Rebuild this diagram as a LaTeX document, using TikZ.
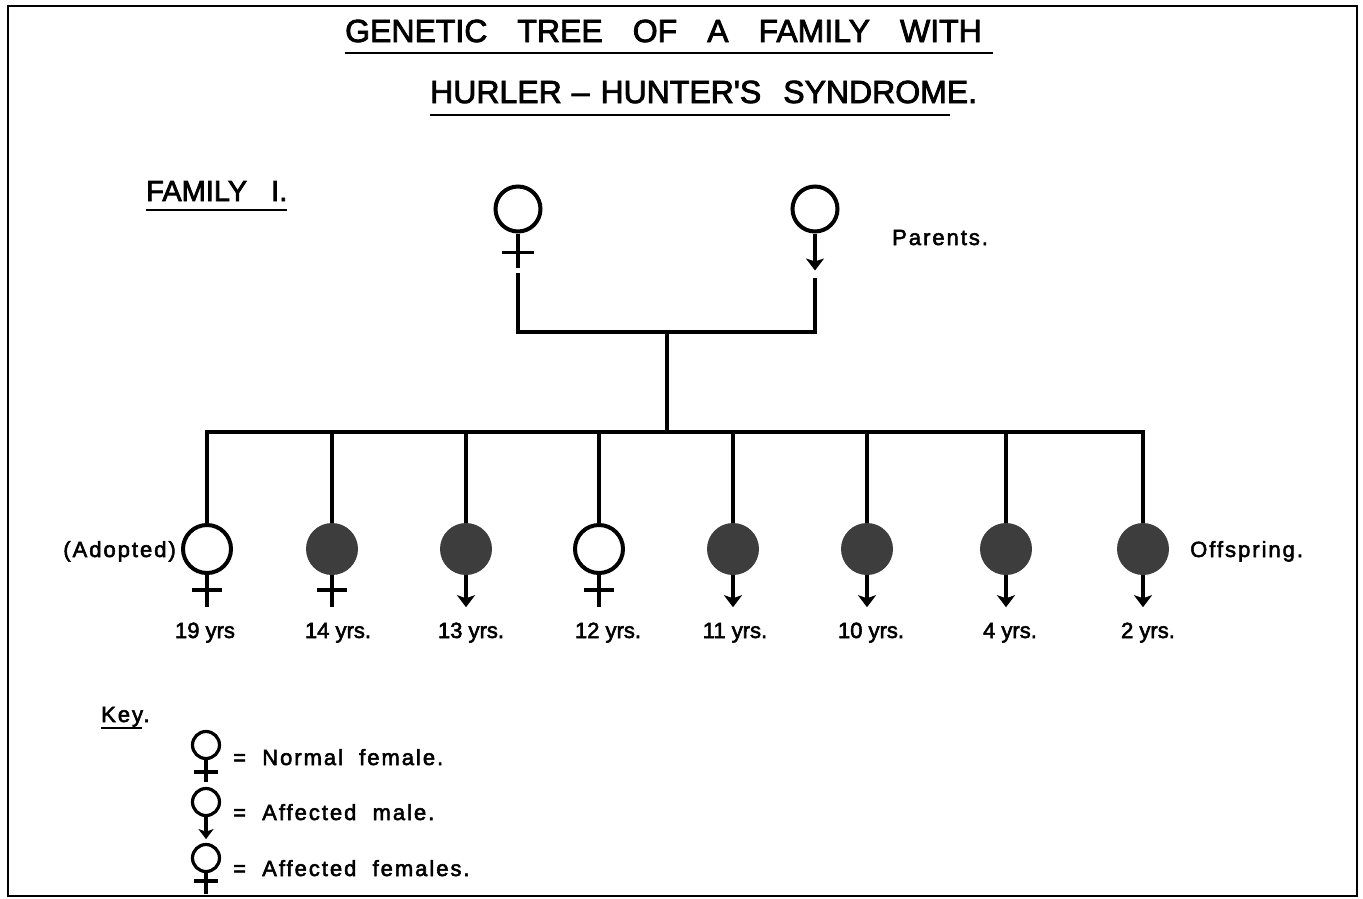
\documentclass[tikz,border=0pt]{standalone}
\usepackage{fontspec}
\usepackage{tikz}
\usetikzlibrary{arrows.meta}
\newfontfamily\lettering[LetterSpace=9,WordSpace=2,FakeBold=2.5]{Liberation Sans}
\newfontfamily\titlefont[FakeBold=2.5]{Liberation Sans}
\newfontfamily\agefont[FakeBold=2.5]{Liberation Sans}
\newcommand{\wgap}{\hspace{30pt}}

\begin{document}
\begin{tikzpicture}[x=1pt,y=-1pt,
  lineage/.style={line width=3.2pt},
  open/.style={circle,draw,line width=4pt,minimum size=48pt,inner sep=0pt},
  shaded/.style={circle,fill=black!76,minimum size=52pt,inner sep=0pt},
  parent/.style={open,minimum size=45pt},
  keysym/.style={circle,draw,line width=3.2pt,minimum size=27pt,inner sep=0pt},
  sign/.style={line width=3.5pt},
  malesign/.style={sign,-{Stealth[length=12pt,width=18pt,inset=3pt]}},
  keymale/.style={sign,-{Stealth[length=10pt,width=15pt,inset=2.5pt]}},
  txt/.style={inner sep=0pt,anchor=base west,font=\lettering\fontsize{22}{22}\selectfont},
  age/.style={inner sep=0pt,anchor=base,font=\agefont\fontsize{22}{22}\selectfont}]
\useasboundingbox (0,0) rectangle (1363,898);
\draw[line width=2.2pt] (8,6) rectangle (1357,896);

% title
\node[inner sep=0pt,anchor=base west,font=\titlefont\fontsize{32}{32}\selectfont] (title1) at (345,42)
  {GENETIC\wgap TREE\wgap OF\wgap A\wgap FAMILY\wgap WITH};
\node[inner sep=0pt,anchor=base west,font=\titlefont\fontsize{32}{32}\selectfont] (title2) at (430,103)
  {HURLER\kern10pt–\kern11pt HUNTER'S\hspace{22pt}SYNDROME.};
\draw[line width=2.4pt] (345,53) -- (993,53);
\draw[line width=2.4pt] (430,115) -- (950,115);

\node[inner sep=0pt,anchor=base west,font=\titlefont\fontsize{29}{29}\selectfont] (family) at (146,201) {FAMILY\kern24pt I.};
\draw[line width=2.4pt] (146,210) -- (287,210);

% parents
\node[parent] (mum) at (518,209) {};
\node[parent] (dad) at (815,209) {};
\draw[sign] (mum.south) -- ++(0,34);
\draw[sign] (mum.south) ++(-16,19) -- ++(32,0);
\draw[malesign] (dad.south) -- ++(0,37);
\node[txt] (parents) at (892,245) {Parents.};

\coordinate (mumline) at (518,273);
\coordinate (dadline) at (815,278);
\coordinate (join) at (667,332);
\coordinate (sib) at (667,432);
\draw[lineage] (mumline) |- (join) -| (dadline);
\draw[lineage] (join) -- (sib);

% offspring
\node[open] (c1) at (207,549) {};
\node[shaded] (c2) at (332,549) {};
\node[shaded] (c3) at (466,549) {};
\node[open] (c4) at (599,549) {};
\node[shaded] (c5) at (733,549) {};
\node[shaded] (c6) at (867,549) {};
\node[shaded] (c7) at (1006,549) {};
\node[shaded] (c8) at (1143,549) {};

\draw[lineage] (c1.north) |- (sib) -| (c8.north);
\draw[lineage] (c2.north) -- (c2.north |- sib);
\draw[lineage] (c3.north) -- (c3.north |- sib);
\draw[lineage] (c4.north) -- (c4.north |- sib);
\draw[lineage] (c5.north) -- (c5.north |- sib);
\draw[lineage] (c6.north) -- (c6.north |- sib);
\draw[lineage] (c7.north) -- (c7.north |- sib);

\draw[sign] (c1.south) -- ++(0,32);
\draw[sign] (c1.south) ++(-15,15) -- ++(30,0);
\draw[sign] (c2.south) -- ++(0,32);
\draw[sign] (c2.south) ++(-15,15) -- ++(30,0);
\draw[malesign] (c3.south) -- ++(0,32);
\draw[sign] (c4.south) -- ++(0,32);
\draw[sign] (c4.south) ++(-15,15) -- ++(30,0);
\draw[malesign] (c5.south) -- ++(0,32);
\draw[malesign] (c6.south) -- ++(0,32);
\draw[malesign] (c7.south) -- ++(0,32);
\draw[malesign] (c8.south) -- ++(0,32);

\node[txt,anchor=base east] (adopted) at (176,557) {(Adopted)};
\node[txt] (offspring) at (1190,557) {Offspring.};

\node[age] (a1) at (205,638) {19 yrs};
\node[age] (a2) at (338,638) {14 yrs.};
\node[age] (a3) at (471,638) {13 yrs.};
\node[age] (a4) at (608,638) {12 yrs.};
\node[age] (a5) at (735,638) {11 yrs.};
\node[age] (a6) at (871,638) {10 yrs.};
\node[age] (a7) at (1010,638) {4 yrs.};
\node[age] (a8) at (1148,638) {2 yrs.};

% key
\node[txt] (key) at (101,722) {Key.};
\draw[line width=1.8pt] (101,728) -- (142,728);

\node[keysym] (k1) at (206,745) {};
\draw[sign] (k1.south) -- ++(0,22);
\draw[sign] (k1.south) ++(-12,12) -- ++(24,0);
\node[keysym] (k2) at (206,802) {};
\draw[keymale] (k2.south) -- ++(0,22);
\node[keysym] (k3) at (206,858) {};
\draw[sign] (k3.south) -- ++(0,21);
\draw[sign] (k3.south) ++(-12,8) -- ++(24,0);

\node[txt] (n1) at (233,765) {= Normal female.};
\node[txt] (n2) at (233,820) {= Affected male.};
\node[txt] (n3) at (233,876) {= Affected females.};
\end{tikzpicture}
\end{document}
